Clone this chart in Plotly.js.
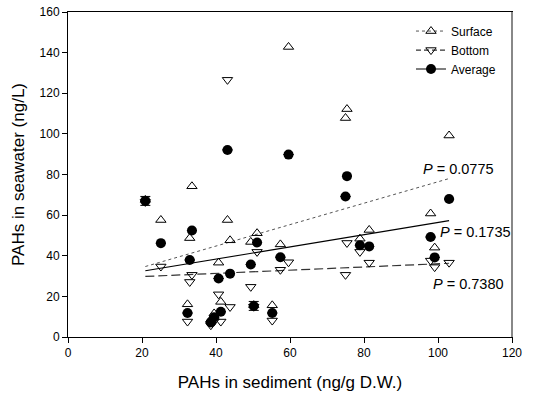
<!DOCTYPE html>
<html><head><meta charset="utf-8">
<script src="https://cdn.plot.ly/plotly-3.0.1.min.js"></script>
<style>html,body{margin:0;padding:0;background:#fff}#chart{width:534px;height:395px}</style>
</head><body><div id="chart"></div>
<script>
// PAHs in sediment (ng/g D.W.) per station
const sediment = [20.9, 25.1, 32.3, 32.9, 33.5, 38.6, 39.5, 40.7, 41.3, 43.1, 43.8, 49.4, 50.2, 51.1, 55.2, 57.4, 59.6, 75.0, 75.4, 78.9, 81.4, 98.0, 99.1, 103.0];
// PAHs in seawater (ng/L)
const surface = [67.5, 57.6, 16.1, 48.7, 74.2, 8.6, 11.6, 36.6, 17.3, 57.6, 47.6, 46.8, 15.7, 51.1, 15.6, 45.6, 142.8, 107.8, 112.2, 48.4, 52.7, 60.8, 44.0, 99.2];
const bottom = [66.5, 34.7, 7.6, 27.1, 30.6, 5.8, 7.8, 21.0, 7.6, 126.6, 14.8, 24.7, 14.9, 41.9, 8.1, 33.1, 36.8, 30.6, 46.3, 41.9, 36.6, 37.6, 34.4, 36.6];
const average = [67.0, 46.2, 11.8, 37.9, 52.4, 7.2, 9.7, 28.8, 12.4, 92.1, 31.2, 35.7, 15.3, 46.5, 11.8, 39.3, 89.8, 69.2, 79.2, 45.2, 44.6, 49.2, 39.2, 67.9];
const averageErr = [2.2, 0, 0, 0, 0, 0, 0, 0, 0, 0, 0, 0, 2.2, 0, 0, 0, 0, 0, 0, 0, 0, 0, 0, 0];
// Regression lines (end points)
const fitX = [20.9, 103.0];
const surfaceFit = [34.7, 78.0];
const bottomFit = [29.8, 36.3];
const averageFit = [32.6, 57.3];
// P-value labels
const pValues = ['0.0775', '0.1735', '0.7380'];
const pLabelX = [95.3, 100.0, 98.2];
const pLabelY = [82.7, 51.6, 26.3];
const seriesNames = ['Surface', 'Bottom', 'Average'];

const FONT = 'Arial, "Liberation Sans", Helvetica, sans-serif';

const traces = [
  {x: fitX, y: surfaceFit, mode: 'lines', line: {color: '#555', width: 1, dash: 'dot'}, showlegend: false, hoverinfo: 'skip'},
  {x: fitX, y: bottomFit, mode: 'lines', line: {color: '#333', width: 1.2, dash: '9px,4px'}, showlegend: false, hoverinfo: 'skip'},
  {x: fitX, y: averageFit, mode: 'lines', line: {color: '#000', width: 1.1}, showlegend: false, hoverinfo: 'skip'},
  {x: sediment, y: surface, mode: 'markers', showlegend: false,
   marker: {symbol: 'triangle-up-open', size: 9, color: '#000', line: {width: 1, color: '#000'}}},
  {x: sediment, y: bottom, mode: 'markers', showlegend: false,
   marker: {symbol: 'triangle-down-open', size: 9, color: '#000', line: {width: 1, color: '#000'}}},
  {x: sediment, y: average, mode: 'markers', showlegend: false,
   error_y: {type: 'data', array: averageErr, visible: true, color: '#000', thickness: 1, width: 5},
   marker: {symbol: 'circle', size: 10, color: '#000'}},
  // legend entries
  {x: [null], y: [null], name: seriesNames[0], mode: 'lines+markers', line: {color: '#555', width: 1, dash: 'dot'},
   marker: {symbol: 'triangle-up-open', size: 9, color: '#000', line: {width: 1}}},
  {x: [null], y: [null], name: seriesNames[1], mode: 'lines+markers', line: {color: '#333', width: 1.2, dash: '5px,3px'},
   marker: {symbol: 'triangle-down-open', size: 9, color: '#000', line: {width: 1}}},
  {x: [null], y: [null], name: seriesNames[2], mode: 'lines+markers', line: {color: '#000', width: 1.1},
   marker: {symbol: 'circle', size: 10, color: '#000'}}
];

const annotations = pValues.map((p, i) => ({
  x: pLabelX[i], y: pLabelY[i], xref: 'x', yref: 'y', xanchor: 'left', yanchor: 'middle',
  text: '<i>P</i> = ' + p, showarrow: false, font: {family: FONT, size: 14.5, color: '#000'}
}));

const layout = {
  width: 534, height: 395,
  margin: {l: 68, r: 22, t: 12, b: 58},
  paper_bgcolor: '#fff', plot_bgcolor: '#fff',
  font: {family: FONT, size: 12, color: '#000'},
  showlegend: true,
  legend: {x: 0.7725, y: 0.986, xanchor: 'left', yanchor: 'top', bgcolor: 'rgba(0,0,0,0)',
           font: {family: FONT, size: 12, color: '#000'}, tracegroupgap: 0},
  xaxis: {range: [0, 120], dtick: 20, tick0: 0, showgrid: false, zeroline: false,
          showline: true, linecolor: '#000', linewidth: 1, mirror: true,
          ticks: 'outside', ticklen: 5, tickcolor: '#000', tickwidth: 1,
          tickfont: {family: FONT, size: 12},
          title: {text: 'PAHs in sediment (ng/g D.W.)', font: {family: FONT, size: 17}, standoff: 16}},
  yaxis: {range: [0, 160], dtick: 20, tick0: 0, showgrid: false, zeroline: false,
          showline: true, linecolor: '#000', linewidth: 1, mirror: true,
          ticks: 'outside', ticklen: 5, tickcolor: '#000', tickwidth: 1,
          tickfont: {family: FONT, size: 12},
          title: {text: 'PAHs in seawater (ng/L)', font: {family: FONT, size: 17}, standoff: 10}},
  shapes: [{type: 'line', xref: 'paper', yref: 'paper', x0: 1, x1: 1, y0: 0, y1: 1,
            line: {color: '#888', width: 2}}],
  annotations: annotations
};

Plotly.newPlot('chart', traces, layout, {displayModeBar: false, staticPlot: true});
</script>
</body></html>
